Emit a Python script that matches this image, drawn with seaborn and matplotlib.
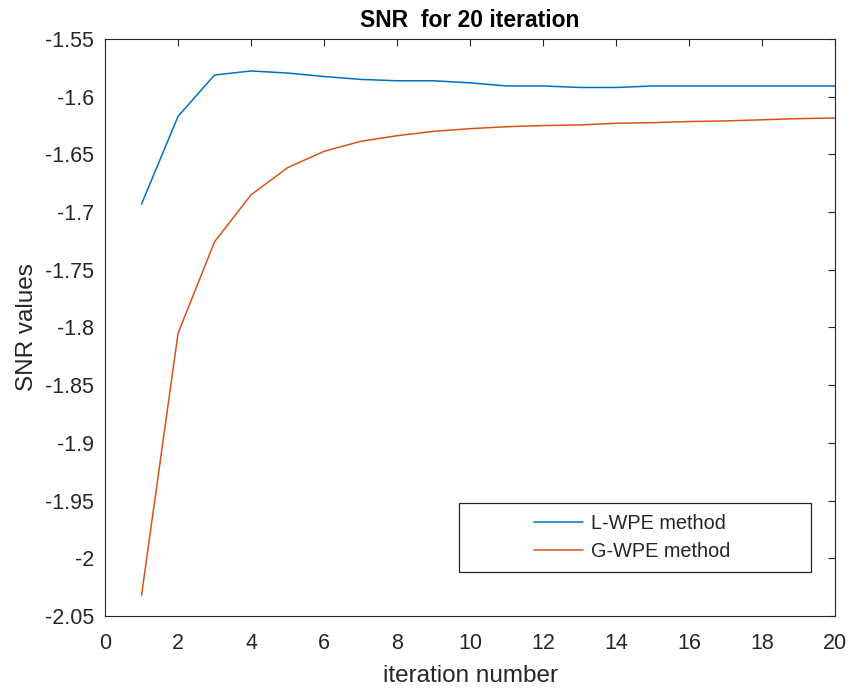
import numpy as np
import pandas as pd
import matplotlib
matplotlib.use("Agg")
import matplotlib.pyplot as plt
from matplotlib.patches import Rectangle
from matplotlib.ticker import FormatStrFormatter
import seaborn as sns

# SNR per iteration for the two dereverberation methods
iterations = list(range(1, 21))
lwpe_snr = [-1.693, -1.617, -1.5812, -1.5777, -1.5795, -1.5825, -1.585, -1.5862,
            -1.5862, -1.588, -1.5907, -1.5907, -1.592, -1.592, -1.5907, -1.5907,
            -1.5907, -1.5907, -1.5907, -1.5907]
gwpe_snr = [-2.032, -1.805, -1.7257, -1.685, -1.6615, -1.6473, -1.6387, -1.6338,
            -1.630, -1.6277, -1.626, -1.625, -1.6245, -1.623, -1.6225, -1.6215,
            -1.621, -1.620, -1.619, -1.6185]
method_names = ["L-WPE method", "G-WPE method"]
line_colors = ["#0072BD", "#D95319"]

x_ticks = list(range(0, 21, 2))
y_ticks = [-2.05, -2.0, -1.95, -1.9, -1.85, -1.8, -1.75, -1.7, -1.65, -1.6, -1.55]

df = pd.DataFrame({
    "iteration": iterations * 2,
    "snr": lwpe_snr + gwpe_snr,
    "method": [method_names[0]] * len(iterations) + [method_names[1]] * len(iterations),
})

sns.set_style("white")
plt.rcParams["font.family"] = ["Liberation Sans", "DejaVu Sans"]
plt.rcParams["axes.unicode_minus"] = False

fig = plt.figure(figsize=(8.54, 6.94), dpi=100)
ax = fig.add_axes([0.123, 0.1124, 0.855, 0.8314])

sns.lineplot(data=df, x="iteration", y="snr", hue="method",
             palette=dict(zip(method_names, line_colors)),
             linewidth=1.1, ax=ax, legend=False)

ax.set_xlim(0, 20)
ax.set_ylim(-2.05, -1.55)
ax.set_xticks(x_ticks)
ax.set_yticks(y_ticks)
ax.yaxis.set_major_formatter(FormatStrFormatter("%g"))
ax.tick_params(direction="in", length=5, width=0.8, color="#262626",
               labelsize=15.5, labelcolor="#262626", top=True, right=True)
ax.tick_params(axis="x", pad=12)
ax.tick_params(axis="y", pad=8)
for s in ax.spines.values():
    s.set_color("#262626")
    s.set_linewidth(0.8)

ax.set_xlabel("iteration number", fontsize=17.5, color="#262626", labelpad=8)
ax.set_ylabel("SNR values", fontsize=17.5, color="#262626", labelpad=5)
ax.set_title("SNR  for 20 iteration", fontsize=16.5, fontweight="bold",
             color="black", pad=9)

# Legend box with centred entries
ax.add_patch(Rectangle((0.485, 0.0763), 0.482, 0.1197, transform=ax.transAxes,
                       facecolor="white", edgecolor="#262626", linewidth=0.9,
                       zorder=4))
handles = [plt.Line2D([], [], color=c, linewidth=1.1) for c in line_colors]
leg = ax.legend(handles, method_names, loc="center",
                bbox_to_anchor=(0.722, 0.136), bbox_transform=ax.transAxes,
                frameon=False, fontsize=14.3, handlelength=2.5,
                handletextpad=0.4, labelspacing=0.45)
leg.set_zorder(5)
for t in leg.get_texts():
    t.set_color("#262626")

fig.savefig("out.png", dpi=100, facecolor="white")
